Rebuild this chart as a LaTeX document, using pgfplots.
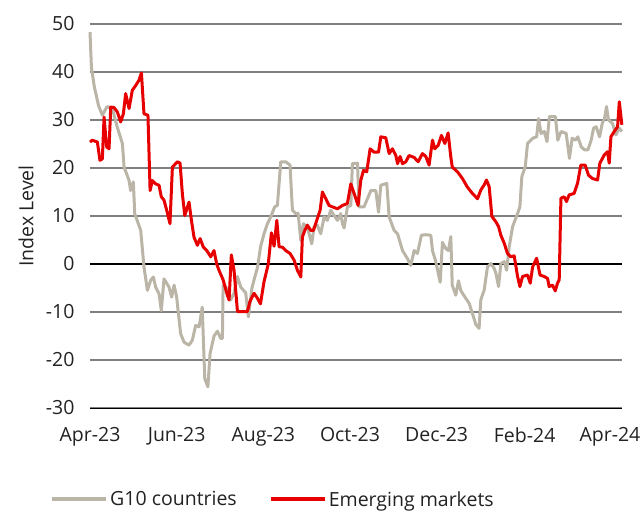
\documentclass[border=0pt]{standalone}
\usepackage{pgfplots}
\pgfplotsset{compat=1.18}
\usepackage{fontspec}
\setmainfont{Open Sans}
\definecolor{gten}{HTML}{BAB5A7}
\definecolor{emred}{HTML}{E60000}
\definecolor{gridgray}{HTML}{808080}
\definecolor{txt}{HTML}{222222}
\newcommand{\chartfont}{\fontsize{19.5}{23}\selectfont}
\begin{document}
\begin{tikzpicture}
\begin{axis}[
  name=main,
  scale only axis,
  width=532pt, height=384pt,
  xmin=0, xmax=374.5,
  ymin=-30, ymax=50,
  ytick={-30,-20,...,50},
  xtick={0,61,122,183,244,306,366},
  xticklabels={Apr-23,Jun-23,Aug-23,Oct-23,Dec-23,Feb-24,Apr-24},
  major tick length=0pt,
  axis x line*=bottom,
  axis y line*=left,
  y axis line style={draw=none},
  x axis line style={black, line width=1pt, -},
  ymajorgrids,
  grid style={gridgray, line width=1.4pt},
  /pgf/number format/assume math mode=true,
  tick label style={font=\chartfont, text=txt},
  yticklabel style={xshift=-12pt},
  xticklabel style={yshift=-16pt},
  ylabel={Index Level},
  ylabel style={font=\chartfont, text=txt, at={([xshift=-64pt]axis description cs:0,0.5)}, anchor=center, rotate=0},
  legend columns=2,
  legend style={draw=none, fill=none, at={(axis description cs:0,0)}, anchor=north west, xshift=-40pt, yshift=-81pt,
    font=\chartfont, text=txt, inner sep=0pt,
    /tikz/every even column/.append style={column sep=30pt}},
  legend image code/.code={\draw[#1, line width=4pt] (0pt,0pt) -- (54pt,0pt);},
  clip=false,
]
\addplot[black, line width=2.6pt, forget plot] coordinates {(0,0) (374.5,0)};
\addplot[gten, line width=3pt, line join=round] coordinates {
(0,48.3) (1,41) (3,37) (6,33) (8.7,31) (12,32.8) (15.7,32.4) (19.2,28.5) (22.8,25.1) (24,20.2)
(27.5,17.4) (28.6,15.3) (30.5,17.1) (31.5,10.5) (35.7,7) (38,-0.6) (40.4,-5.5) (42.7,-3.4) (44.6,-2.7) (46.2,-4.8)
(48.6,-6.2) (50.2,-9.7) (52.1,-3.1) (55.6,-4.8) (57.5,-6.9) (59.2,-4.4) (61,-6.9) (63.8,-14.5) (66.2,-16.3) (69.7,-16.9)
(72,-15.9) (74.4,-12.8) (76.8,-13.1) (79,-9) (80.8,-23.9) (83,-25.6) (84.5,-18.7) (87.3,-15) (89.7,-14) (92,-15.5)
(93.2,-15.5) (93.7,-4.5) (95.5,-4.7) (99,-7.5) (101.4,-6.1) (103.8,-2.6) (106.1,-4.8) (109.6,-6) (111.5,-11) (114,-5)
(115.5,-3.3) (118,-0.6) (120,3.5) (122.5,6.3) (124.9,8.4) (127.2,9.8) (130,11.9) (131.9,12.2) (134.3,21.3) (137.8,21.3)
(140.8,20.6) (142.5,11.2) (144.8,10.5) (146.5,10.6) (148.4,4.9) (150.2,8.4) (153,7.7) (156.1,4.2) (157.7,7.7) (160,8.1)
(162.4,6.3) (164.8,9.8) (167.1,9.1) (169.5,11.2) (171.8,10.1) (174.2,9.1) (176.5,10.5) (177.7,8.4) (178.9,7.5) (181.2,11.9)
(183.6,12.2) (184.7,20.9) (188.3,21) (189.4,11.9) (192.9,11.9) (197.7,15.3) (201.2,15.3) (203.1,10.8) (204.7,16.4) (208.9,16.8)
(210.6,9.8) (214.1,7) (216.5,6.3) (220,2.8) (223.5,1.1) (225.8,-0.3) (228.2,2.8) (230.5,2.2) (233.3,6) (236.4,6.1)
(239.9,6) (241.1,2.8) (243.4,0.5) (246.5,-3.8) (248.1,4.5) (250.5,3.2) (252.3,2.8) (254,5.7) (255,-4.4) (257.5,-6.5)
(259.4,-3.5) (261,-5.5) (262.2,-6.1) (266.9,-8.2) (269.2,-10.3) (271.6,-12.6) (273.9,-13.4) (275.1,-7.5) (277.5,-5.4) (279.8,-0.6)
(282.2,0.1) (284.5,-0.9) (285.7,-1.9) (287.6,-4.7) (289.2,0.1) (291.6,0.5) (293.3,-1.3) (295.1,3.6) (297.5,7.8) (301.1,10.6)
(302.6,11.9) (304,18.2) (306.4,20.3) (308,25.1) (311.6,26.2) (314.4,26.5) (315.8,30.3) (317.5,27.2) (319.8,27.6) (321.7,25.5)
(323.4,30.7) (327.6,30.7) (329.3,25.8) (331.6,27.6) (335.2,27.2) (337.5,22) (339.4,26.2) (341.7,25.8) (343.4,26.5) (345.8,24.4)
(348.1,23.8) (350.5,23.8) (352.8,25.8) (354.5,28.3) (356.3,28.6) (358.7,26.5) (360.6,29.3) (362.2,30.3) (363.6,32.8) (365,30)
(367.8,29.3) (370.2,26.9) (372.5,28.3) (374.4,27.6)
};
\addlegendentry{G10 countries}
\addplot[emred, line width=3pt, line join=round] coordinates {
(0,25.4) (1.6,25.8) (5.2,25.4) (7,21.6) (8.7,21.9) (9.9,30.6) (11.7,24.4) (13.4,24) (14.6,32.7) (16.9,32.6)
(19.2,31.7) (21.6,29.6) (23.5,31.3) (25.1,35.5) (27.5,32.4) (29.8,36.2) (32.2,37.2) (34.5,38.3) (36.2,39.8) (38,31.3)
(40.8,31) (42.3,15.3) (43.9,17.4) (46.2,16.7) (48.6,16.4) (50.2,14) (52.1,13.3) (54,11.2) (56.3,8.4) (58,20.2)
(60.3,20.9) (61.5,21.3) (63.4,21) (65,14.7) (66.7,10.1) (69.7,12.9) (71.4,9.1) (73.2,5.6) (75.6,3.9) (77.5,5.3)
(79.8,3.5) (82.2,2.8) (85,1.5) (87.3,2.8) (89.2,0) (90.8,-1.3) (93.7,-3.3) (96.7,-6.5) (97.9,-7.5) (99.5,1.9)
(101.4,-1.3) (103.8,-9.9) (107.3,-9.9) (110.8,-9.9) (112.7,-7.7) (115.5,-6.1) (117.6,-7) (120,-8.3) (122.5,-3.7) (125.5,0)
(127.7,6.5) (129.6,3.7) (131.5,9.1) (133.1,3.6) (135.4,3.5) (137.8,2.8) (140.8,2.2) (143.7,0.8) (146,-1.3) (148.4,-2.7)
(149.5,5.6) (151.2,7) (153,8.1) (155.4,7) (157.3,7) (159.6,9.1) (162,11.2) (163.6,15) (166,13.6) (168.3,12.2)
(170.7,11.9) (174.2,11.5) (177.7,12.2) (181.2,12.6) (183.6,16.7) (185.9,14.7) (188.7,12.2) (190.6,17.4) (192.5,19.5) (194.8,19.2)
(197.2,24) (200,23.3) (203.1,23.3) (204.7,26.5) (208.2,26.3) (210.6,23) (212.9,24) (215.3,22.6) (216.5,20.9) (218.3,22.4)
(220,20.9) (222.3,21.3) (224.6,22.6) (228.2,22.2) (231,21.3) (234,23) (236.4,22.4) (238.7,20.6) (241.1,25.8) (242.7,24)
(245.1,24.7) (247.4,26.8) (249.8,25.1) (252.1,27.3) (254,22.3) (255,20.2) (258.7,19.2) (262.2,17.8) (265.7,16) (269.2,14.7)
(272.8,13.6) (275.1,15.4) (277.5,16.5) (279.1,17.5) (281,16.1) (282.9,9.9) (285.7,8.8) (287.6,7.8) (289.2,6) (291.6,4.3)
(293.9,2.2) (296.2,1.5) (298.6,1.7) (301,-2.6) (302.6,-4.7) (304.5,-2.6) (308,-2.3) (309.9,-4) (311.6,-0.6) (314.4,1.2)
(316.8,-2.3) (319.7,-2.6) (322.1,-3) (323.2,-4.7) (325.6,-4.4) (327.5,-5.6) (329.1,-4) (330.3,-3.3) (331.5,13.7) (333.8,14)
(335.4,13) (337.3,14.4) (340.8,14.7) (343.2,16.8) (345.5,20.6) (348.6,20.6) (350.9,18.5) (353.8,17.8) (357.3,17.5) (358.9,21)
(362,22.7) (364.3,23.4) (365.5,21) (366.7,26.5) (369,27.6) (371.4,28.6) (372.6,33.8) (374.4,29)
};
\addlegendentry{Emerging markets}
\end{axis}
\pgfresetboundingbox
\path[use as bounding box] (main.south west) ++(-90pt,-104pt) rectangle ++(643pt,512pt);
\end{tikzpicture}
\end{document}
